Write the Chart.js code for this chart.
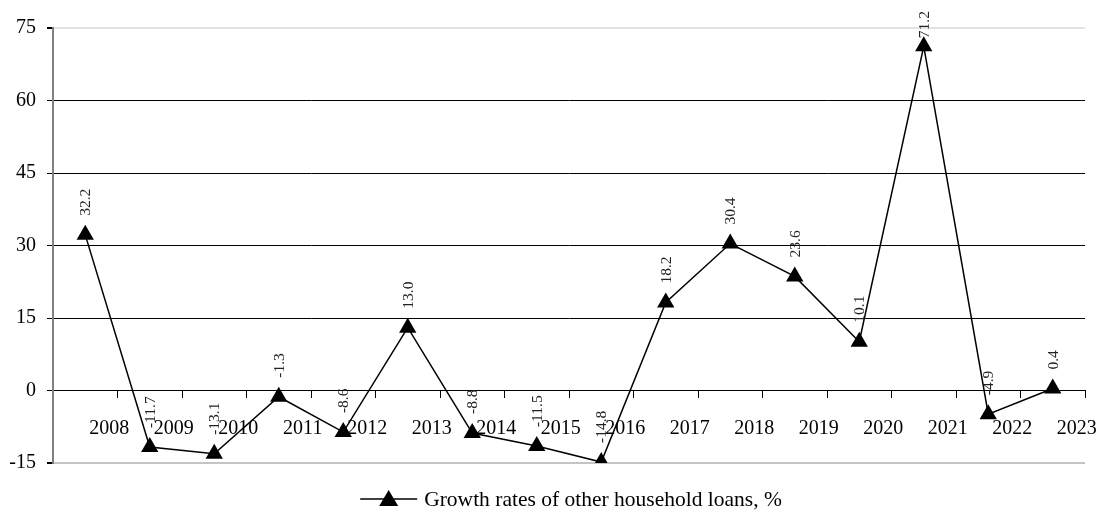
<!DOCTYPE html>
<html>
<head>
<meta charset="utf-8">
<script src="https://cdn.jsdelivr.net/npm/chart.js@4/dist/chart.umd.min.js"></script>
<style>
  html, body { margin: 0; padding: 0; background: #fff; }
  #wrap { width: 1102px; height: 525px; }
</style>
</head>
<body>
<div id="wrap"><canvas id="growthChart"></canvas></div>
<script>
const years = ['2008', '2009', '2010', '2011', '2012', '2013', '2014', '2015',
               '2016', '2017', '2018', '2019', '2020', '2021', '2022', '2023'];
const growthRates = [32.2, -11.7, -13.1, -1.3, -8.6, 13.0, -8.8, -11.5,
                     -14.8, 18.2, 30.4, 23.6, 10.1, 71.2, -4.9, 0.4];
const seriesName = 'Growth rates of other household loans, %';

const serif = 'Liberation Serif, Times New Roman, serif';

// etiquetas de valor giradas sobre cada punto
const valueLabels = {
    id: 'valueLabels',
    afterDatasetsDraw(chart) {
        const ctx = chart.ctx;
        const meta = chart.getDatasetMeta(0);
        ctx.save();
        ctx.font = '15.5px ' + serif;
        ctx.fillStyle = '#222';
        ctx.textAlign = 'left';
        ctx.textBaseline = 'middle';
        meta.data.forEach((pt, i) => {
            const txt = growthRates[i].toFixed(1);
            const w = ctx.measureText(txt).width;
            let y = pt.y - 19;
            if (y - w < 11) y = 11 + w;
            ctx.save();
            ctx.translate(pt.x + 1, y);
            ctx.rotate(-Math.PI / 2);
            ctx.fillText(txt, 0, 0);
            ctx.restore();
        });
        ctx.restore();
    }
};

// leyenda abajo: línea con triángulo y texto
const bottomLegend = {
    id: 'bottomLegend',
    afterDraw(chart) {
        const ctx = chart.ctx;
        ctx.save();
        ctx.font = '21.5px ' + serif;
        const tw = ctx.measureText(seriesName).width;
        const total = 57 + 7 + tw;
        const x0 = (chart.width - total) / 2 + 20;
        const y = 499;
        ctx.strokeStyle = '#000';
        ctx.lineWidth = 1.5;
        ctx.beginPath();
        ctx.moveTo(x0, y);
        ctx.lineTo(x0 + 57, y);
        ctx.stroke();
        ctx.fillStyle = '#000';
        ctx.beginPath();
        ctx.moveTo(x0 + 28.5, y - 9);
        ctx.lineTo(x0 + 38, y + 7);
        ctx.lineTo(x0 + 19, y + 7);
        ctx.closePath();
        ctx.fill();
        ctx.textBaseline = 'middle';
        ctx.fillText(seriesName, x0 + 64, y + 1);
        ctx.restore();
    }
};

new Chart(document.getElementById('growthChart'), {
    type: 'line',
    data: {
        labels: years,
        datasets: [{
            label: seriesName,
            data: growthRates,
            borderColor: '#000',
            borderWidth: 1.5,
            backgroundColor: '#000',
            pointStyle: 'triangle',
            pointRadius: 10,
            pointBorderWidth: 0,
            pointBackgroundColor: '#000',
            tension: 0
        }]
    },
    options: {
        responsive: true,
        maintainAspectRatio: false,
        animation: false,
        layout: { padding: { top: 28, right: 17, bottom: 62, left: 0 } },
        plugins: {
            legend: { display: false },
            tooltip: { enabled: false }
        },
        scales: {
            x: {
                position: { y: 0 },
                offset: true,
                grid: {
                    offset: true,
                    drawOnChartArea: false,
                    drawTicks: true,
                    tickLength: 7,
                    color: '#000'
                },
                border: { display: true, color: '#000', width: 1 },
                ticks: {
                    font: { family: serif, size: 20 },
                    color: '#000',
                    labelOffset: 24,
                    padding: 19,
                    maxRotation: 0,
                    autoSkip: false
                }
            },
            y: {
                min: -15,
                max: 75,
                afterFit(scale) { scale.width = 53; },
                grid: {
                    color: c => c.tick.value === 75 ? '#e3e3e3' : (c.tick.value === -15 ? '#c4c4c4' : '#000'),
                    lineWidth: c => (c.tick.value === 75 || c.tick.value === -15) ? 2 : 1,
                    tickColor: '#000',
                    tickLength: 6
                },
                border: { color: '#808080', width: 2 },
                ticks: {
                    stepSize: 15,
                    font: { family: serif, size: 20 },
                    color: '#000',
                    padding: 11
                }
            }
        }
    },
    plugins: [valueLabels, bottomLegend]
});
</script>
</body>
</html>
